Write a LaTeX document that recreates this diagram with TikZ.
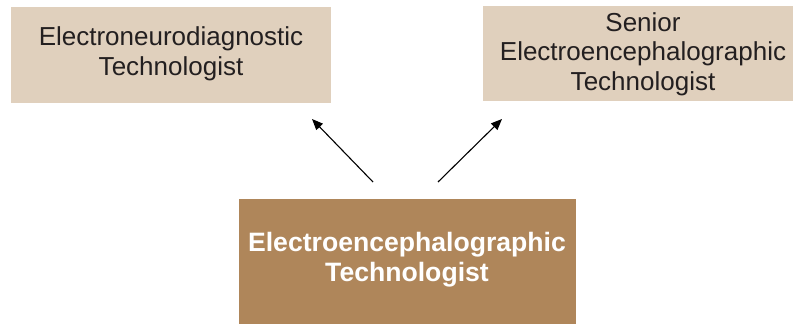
\documentclass[tikz,border=0pt]{standalone}
\usepackage{fontspec}
\setmainfont{Liberation Sans}
\usetikzlibrary{arrows.meta}
\definecolor{lightbeige}{HTML}{E0D0BD}
\definecolor{brownbox}{HTML}{AF865A}
\definecolor{txtdark}{HTML}{231F20}
\tikzset{
  boxbase/.style={draw=none, inner sep=0pt, outer sep=0pt, anchor=north west},
  lightbox/.style={boxbase, fill=lightbeige},
  darkbox/.style={boxbase, fill=brownbox},
  lbl/.style={align=center, inner sep=0pt, font=\fontsize{26}{29.5}\selectfont, text=txtdark},
  boldlbl/.style={align=center, inner sep=0pt, font=\fontsize{26.6}{30}\selectfont\bfseries, text=white},
  conn/.style={line width=1.1pt, draw=black, -{Triangle[length=11pt,width=9pt]}}
}
\begin{document}
\begin{tikzpicture}[x=1pt,y=-1pt]
\useasboundingbox (0,0) rectangle (793,324);
\node[lightbox, minimum width=320pt, minimum height=96pt] (bl) at (11,7) {};
\node[lightbox, minimum width=310pt, minimum height=95pt] (br) at (483,6) {};
\node[darkbox, minimum width=337pt, minimum height=125pt] (bb) at (239,199) {};
\node[lbl] (tl) at (171,54) {Electroneurodiagnostic\\Technologist};
\node[lbl] (tr) at (643,54) {Senior\\Electroencephalographic\\Technologist};
\node[boldlbl] (tb) at (407,260) {Electroencephalographic\\Technologist};
\coordinate (s1) at (373,182);
\coordinate (e1) at (312,119);
\coordinate (s2) at (438,182);
\coordinate (e2) at (502,119);
\draw[conn] (s1) -- (e1);
\draw[conn] (s2) -- (e2);
\end{tikzpicture}
\end{document}
